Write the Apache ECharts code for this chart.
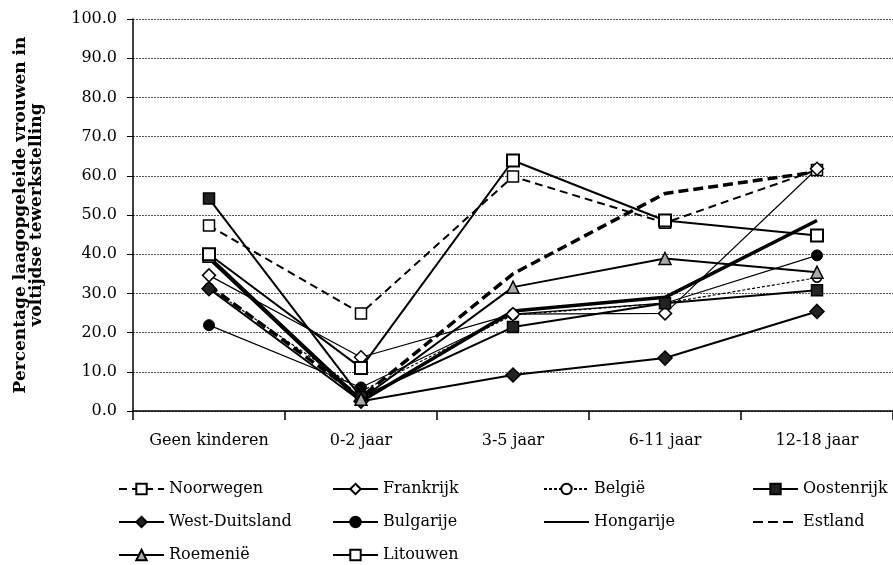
<!DOCTYPE html>
<html>
<head>
<meta charset="utf-8">
<script src="https://cdn.jsdelivr.net/npm/echarts@6/dist/echarts.min.js"></script>
<style>html,body{margin:0;padding:0;background:#fff}#c{width:893px;height:565px}</style>
</head>
<body>
<div id="c"></div>
<script>
const categories = ['Geen kinderen', '0-2 jaar', '3-5 jaar', '6-11 jaar', '12-18 jaar'];
const yTicks = [0, 10, 20, 30, 40, 50, 60, 70, 80, 90, 100];

const noorwegen     = [47.3, 24.9, 59.8, 48.0, 61.5];
const frankrijk     = [34.6, 13.7, 24.7, 24.9, 61.8];
const belgie        = [31.5, 5.0, 24.5, 27.5, 34.0];
const oostenrijk    = [54.2, 3.5, 21.4, 27.5, 30.8];
const westDuitsland = [31.2, 2.5, 9.2, 13.5, 25.4];
const bulgarije     = [21.9, 6.0, 24.7, 27.5, 39.7];
const hongarije     = [39.0, 2.5, 25.5, 29.0, 48.6];
const estland       = [32.0, 3.5, 35.0, 55.5, 61.0];
const roemenie      = [39.5, 3.0, 31.6, 38.9, 35.4];
const litouwen      = [40.0, 11.0, 63.9, 48.6, 44.8];

const FONT = "'DejaVu Serif', 'Liberation Serif', serif";
const chart = echarts.init(document.getElementById('c'), null, {renderer: 'canvas'});

function s(name, data, opt) {
  return Object.assign({
    name: name, type: 'line', data: data, animation: false,
    symbolSize: 11, showSymbol: true, z: 2,
    lineStyle: {color: '#000', width: 2, type: 'solid'},
    itemStyle: {color: '#fff', borderColor: '#000', borderWidth: 1.5},
    emphasis: {disabled: true}
  }, opt);
}

const series = [
  s('Noorwegen', noorwegen, {symbol: 'rect', lineStyle: {color: '#000', width: 2, type: [8, 5]}}),
  s('Frankrijk', frankrijk, {symbol: 'diamond', symbolSize: 13, lineStyle: {color: '#000', width: 1.2}}),
  s('België', belgie, {symbol: 'circle', symbolSize: 9, z: 1, lineStyle: {color: '#000', width: 1.2, type: [3, 2]}}),
  s('Oostenrijk', oostenrijk, {symbol: 'rect', itemStyle: {color: '#222', borderColor: '#000', borderWidth: 1.5}}),
  s('West-Duitsland', westDuitsland, {symbol: 'diamond', symbolSize: 14, itemStyle: {color: '#222', borderColor: '#000', borderWidth: 1.5}}),
  s('Bulgarije', bulgarije, {symbol: 'circle', symbolSize: 11, z: 1, lineStyle: {color: '#000', width: 1.2}, itemStyle: {color: '#000', borderColor: '#000', borderWidth: 1}}),
  s('Hongarije', hongarije, {symbol: 'none', lineStyle: {color: '#000', width: 3.5}}),
  s('Estland', estland, {symbol: 'none', lineStyle: {color: '#000', width: 3.5, type: [10, 5]}}),
  s('Roemenië', roemenie, {symbol: 'triangle', symbolSize: 12, itemStyle: {color: '#aaa', borderColor: '#000', borderWidth: 1.5}}),
  s('Litouwen', litouwen, {symbol: 'rect', symbolSize: 12, itemStyle: {color: '#fff', borderColor: '#000', borderWidth: 2}})
];

const noSymbol = ['Hongarije', 'Estland'];
function legend(names, left) {
  return {
    data: names.map(n => noSymbol.includes(n) ? {name: n, itemStyle: {opacity: 0}} : n),
    orient: 'vertical', left: left, top: 481, height: 84, padding: 0,
    itemWidth: 45, itemHeight: 13, itemGap: 17,
    textStyle: {fontFamily: FONT, fontSize: 16, color: '#000'},
    selectedMode: false
  };
}

chart.setOption({
  backgroundColor: '#fff',
  animation: false,
  textStyle: {fontFamily: FONT},
  grid: {left: 133, right: 0, top: 19, bottom: 154},
  legend: [
    legend(['Noorwegen', 'West-Duitsland', 'Roemenië'], 118),
    legend(['Frankrijk', 'Bulgarije', 'Litouwen'], 332),
    legend(['België', 'Hongarije'], 543),
    legend(['Oostenrijk', 'Estland'], 752)
  ],
  xAxis: {
    type: 'category', data: categories, boundaryGap: true,
    axisLine: {lineStyle: {color: '#000', width: 1.5}},
    axisTick: {show: true, interval: 0, length: 9, lineStyle: {color: '#000', width: 1.5}},
    axisLabel: {color: '#000', fontFamily: FONT, fontSize: 16, margin: 22, interval: 0, hideOverlap: false}
  },
  yAxis: {
    type: 'value', min: yTicks[0], max: yTicks[yTicks.length - 1], interval: 10,
    name: 'Percentage laagopgeleide vrouwen in\nvoltijdse tewerkstelling',
    nameLocation: 'middle', nameGap: 88, nameRotate: 90,
    nameTextStyle: {fontFamily: FONT, fontSize: 17, fontWeight: 'bold', color: '#000', lineHeight: 16, align: 'center'},
    axisLine: {show: true, lineStyle: {color: '#000', width: 1.5}},
    axisTick: {show: true, length: 6, lineStyle: {color: '#000', width: 1}},
    axisLabel: {color: '#000', fontFamily: FONT, fontSize: 16, margin: 16, formatter: v => v.toFixed(1)},
    splitLine: {show: true, lineStyle: {color: '#555', width: 1, type: [2, 1]}}
  },
  series: series
});
</script>
</body>
</html>
